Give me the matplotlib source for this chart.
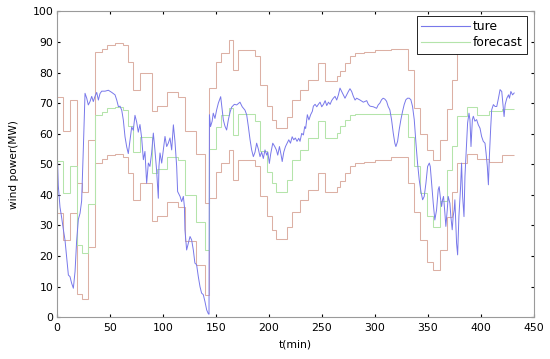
import matplotlib
matplotlib.use("Agg")
import matplotlib.pyplot as plt
from matplotlib.lines import Line2D

# ---------------- data ----------------
step_edges = [0, 6.2, 12.5, 18.8, 23.5, 29.8, 36, 42.4, 47.1, 55, 62.8, 67.5, 72.2,
              78.5, 89.5, 94.3, 103.7, 114.6, 120.5, 131, 139.8, 143.7, 150, 155,
              162, 166, 171, 187, 192, 198, 203, 207, 217, 222, 229, 237, 246.6,
              252.9, 264, 267, 271.7, 276.4, 281.1, 290, 300, 315, 331.4, 336.5,
              342.4, 348.7, 355, 361.3, 367.6, 372.3, 377.6, 387, 396, 408, 420, 431]

upper_vals = [72, 61, 71, 44, 41, 58, 86.8, 87.8, 89, 89.8, 88.9, 83.5, 74.3, 80,
              67.4, 68.9, 73.7, 72, 61, 53.5, 37.5, 75, 83.5, 86.5, 90.6, 80.8,
              87.4, 85.5, 75.8, 69, 64.6, 61.8, 65.5, 71, 74.4, 77.6, 83.1, 77.1,
              78.7, 80.4, 83.1, 85.3, 86.4, 86.8, 87.2, 87.6, 80.9, 68.5, 60, 54.7,
              51.5, 58, 68, 77.6, 89, 91, 89, 89.5, 90]

forecast_vals = [51, 40.5, 49.5, 23.5, 21, 37, 66.2, 67.2, 68.3, 68.8, 67.8, 62.5,
                 54, 59, 47, 48.5, 52.5, 51.5, 40, 31, 22, 55, 62.3, 66, 68.5, 59.5,
                 66.3, 64, 54.5, 47.5, 44, 41, 45, 51.5, 54.7, 58.5, 64, 58.5, 60.2,
                 62.4, 64.6, 66.2, 66.5, 66.5, 66.3, 66.6, 59, 49.5, 40.5, 33, 29.6,
                 38, 48, 56, 65.8, 68.8, 66, 67.3, 68]

lower_vals = [34, 25.3, 34, 7.5, 6, 23, 50.3, 51.6, 53, 53.5, 52.5, 47.3, 38.3, 43.8,
              31.6, 33, 37.8, 36, 25, 17, 7.3, 39, 47.5, 50.5, 54.6, 45, 51.5, 49.5,
              39.5, 33, 28.6, 25.5, 29.6, 34.5, 38.4, 41.6, 47, 41, 42.7, 44.4, 47,
              49.3, 50.4, 50.8, 51.5, 52.3, 43.8, 34.5, 25.3, 18.2, 15.5, 22, 32.9,
              41.1, 50.5, 53.3, 51.8, 50.8, 53]

true_t = [0, 0.7, 1.5, 3.1, 4.7, 6.3, 7.8, 9.4, 11.0, 12.5, 14.1, 15.7, 17.3, 18.8,
          20.4, 22, 23.5, 25.1, 26.7, 28.3, 29.8, 31.4, 33, 34.5, 36.1, 37.7, 39.3,
          40.8, 42.4, 45.6, 48.7, 51.9, 55, 56.6, 58.2, 59.7, 61.3, 62.8, 64.4, 66,
          67.5, 69.1, 70.7, 72.2, 73.8, 75.4, 76.9, 78.5, 80.1, 81.7, 83.2, 84.8,
          86.4, 87.9, 89.5, 91.1, 92.6, 94.2, 95.8, 96.4, 97.4, 99, 100.5, 102.1,
          103.7, 105.2, 106.8, 108.4, 110, 111.5, 113.1, 114, 116.3, 117.8, 119.4,
          120.4, 120.9, 122.5, 124.1, 125.7, 127.2, 128.8, 130.3, 131.9, 133.5,
          135.1, 136.6, 138.2, 139.8, 141.4, 142.9, 143.6, 144, 145, 146.5, 147.6,
          149.2, 150.8, 152.4, 154.6, 156, 157.1, 158.6, 160.2, 161.8, 163.4, 165,
          167.5, 169.7, 172.8, 174.9, 177.5, 179.1, 180.7, 182.3, 183.8, 185.4, 187,
          188.5, 190.1, 191.7, 193.2, 194.8, 196.4, 198, 199, 200.5, 201.8, 203.7,
          205.6, 207.1, 208.4, 210, 211.6, 212.6, 214.1, 215.7, 217.2, 218.8, 220.4,
          222, 223.5, 225, 226.6, 228.2, 229.4, 231, 232.6, 233.8, 234.7, 236.3,
          237.8, 239.4, 241, 242, 243.6, 245.2, 246.7, 248.3, 249.9, 251.5, 253.1,
          254.6, 256.2, 257.8, 259.2, 260.8, 262.4, 264, 265.6, 267.1, 268.7, 270.3,
          271.8, 273.4, 275, 276.5, 278.1, 279.7, 281.3, 282.8, 286, 289.1, 292.3,
          293.8, 295.4, 298.5, 300.5, 301.6, 303.1, 304.7, 306.3, 307.8, 309.4, 311,
          312.5, 314.1, 315.7, 317.3, 318.8, 319.8, 321.4, 322.9, 324.5, 326.1,
          327.6, 329.2, 330.8, 332.4, 333.9, 335.5, 337.1, 338.7, 340.2, 341.8,
          343.4, 345, 346.5, 348.1, 349.7, 351.3, 352.2, 353.5, 355, 356.5, 358.1,
          359.7, 360.6, 361.6, 362.9, 363.8, 364.7, 366, 366.9, 368.2, 369.1, 370.7,
          371.6, 372.9, 373.8, 374.7, 375.4, 377, 378, 379.2, 380.8, 381.7, 382.7,
          384, 384.9, 386.5, 387.4, 388.7, 389.6, 390.6, 391.9, 392.8, 394.3, 395.9,
          397.5, 399.1, 400.6, 402.2, 403.8, 404.8, 406, 407, 407.9, 409.2, 410.1,
          411.7, 413.3, 414.9, 416.5, 418, 419.6, 420.6, 421.8, 422.8, 424.4, 426,
          426.9, 428.2, 429.8, 431.3]

true_v = [49, 52, 43, 36, 32.5, 28.6, 25.3, 19.4, 13.8, 13.3, 11.1, 9.5, 15, 25,
          32, 34, 38, 55, 73.2, 71.6, 69.4, 70.5, 72.2, 70.5, 72.2, 73.5, 71, 73.1,
          73.9, 73.9, 74.2, 73.5, 72.7, 71, 68.8, 69, 67.7, 64.5, 59, 55.7, 53.5,
          57.8, 62.2, 61.1, 66, 63.8, 60.5, 63, 58.6, 51.5, 54.2, 43.8, 50.4, 49.3,
          53.7, 60.2, 54.7, 48, 38.9, 49.3, 53.7, 50.4, 54.7, 59.1, 55.8, 56.9, 58.6,
          54.7, 62.9, 57.5, 49.3, 41.1, 39.5, 37.8, 39.5, 36.2, 28.6, 22, 24.2, 26.4,
          25.3, 22, 17.7, 17.2, 13.3, 10, 7.9, 7.4, 5.1, 2.4, 1.2, 1.0, 66.2, 62.3,
          64, 66.7, 65, 67.8, 70, 72.1, 68, 64.5, 62.5, 61.2, 64.5, 67, 68.7, 69.6,
          69.4, 70.3, 68.8, 67.7, 66.2, 62.3, 58, 54.7, 52.5, 54, 56.9, 55, 52.5, 54,
          51.9, 54.7, 53, 54, 50.3, 53.5, 56.9, 55.8, 54.7, 53, 55.8, 53, 50.9, 54,
          55.8, 56.9, 58, 56.9, 59, 58, 58.6, 57.5, 58.5, 57.5, 60.1, 59.6, 62.3,
          61.7, 66.2, 64.5, 66.2, 67.3, 69, 69.6, 68.8, 69.6, 70.3, 68.8, 69.6, 70.8,
          69.2, 70.3, 69.6, 70.8, 71.6, 72.2, 71, 72.7, 74.9, 73.8, 72.7, 71.6, 72.7,
          73.8, 74.7, 73.8, 72.2, 71, 71.6, 71, 70.3, 70.8, 69.6, 69, 68.8, 68.5,
          68.3, 69.4, 70, 71.1, 71.6, 71.3, 70.6, 68.9, 67.8, 64.6, 60.2, 56.9, 55.8,
          57.5, 61.3, 64.6, 67.3, 69.5, 71.1, 71.6, 71.6, 71.1, 68.9, 64.6, 56.9,
          50.4, 44.9, 41.1, 38.4, 39.5, 43.8, 49.3, 50.4, 49.3, 43.8, 37.3, 31.8, 35,
          41.7, 42.7, 39.5, 36.2, 38.4, 39.5, 34, 29.7, 35, 39.5, 37.3, 33, 28.6, 33,
          35, 38.4, 24.2, 20.4, 32.9, 42.7, 50.4, 39.5, 32.9, 46, 56.9, 63.5, 66.7,
          64.6, 55.8, 64.6, 65.7, 64.1, 64.6, 62.9, 61.8, 59.1, 57.5, 56.9, 53.7,
          49.3, 43.3, 52.3, 62.1, 67.8, 69.5, 68.9, 68.9, 71.6, 74.4, 73.8, 70, 65.6,
          69.5, 71.6, 72.7, 71.6, 73.8, 72.7, 73.3]

x_ticks = [0, 50, 100, 150, 200, 250, 300, 350, 400, 450]
y_ticks = [0, 10, 20, 30, 40, 50, 60, 70, 80, 90, 100]
series_names = ["ture", "forecast"]
x_label = "t(min)"
y_label = "wind power(MW)"

# ---------------- style ----------------
plt.rcParams['font.family'] = ['DejaVu Sans']
c_true = '#7878ea'
c_fc = '#b4e4aa'
c_bound = '#dcb0a4'

fig = plt.figure(figsize=(5.5, 3.59), dpi=100)
ax = fig.add_axes([0.1031, 0.1162, 0.8678, 0.8523])

ax.stairs(upper_vals, step_edges, baseline=None, color=c_bound, lw=0.75)
ax.stairs(lower_vals, step_edges, baseline=None, color=c_bound, lw=0.75)
ax.stairs(forecast_vals, step_edges, baseline=None, color=c_fc, lw=0.75)
ax.plot(true_t, true_v, color=c_true, lw=0.7)

ax.set_xlim(0, 450)
ax.set_ylim(0, 100)
ax.set_xticks(x_ticks)
ax.set_yticks(y_ticks)
ax.tick_params(direction='in', length=2.5, width=0.8, top=True, right=True,
               labelsize=7.8, color='k')
ax.tick_params(axis='y', pad=2.4)
ax.tick_params(axis='x', pad=4)
for s in ax.spines.values():
    s.set_color('#9a9a9a')
    s.set_linewidth(0.8)

ax.set_xlabel(x_label, fontsize=7.8, va='center')
ax.xaxis.set_label_coords(0.5, -0.0905)
ax.set_ylabel(y_label, fontsize=7.6, va='center')
ax.yaxis.set_label_coords(-0.0895, 0.5)

handles = [Line2D([], [], color=c_true, lw=0.8), Line2D([], [], color=c_fc, lw=0.8)]
leg = ax.legend(handles, series_names, loc='upper right',
                bbox_to_anchor=(0.9853, 0.9846), borderaxespad=0, fontsize=8.8,
                fancybox=False, framealpha=1, edgecolor='k', handlelength=4,
                handletextpad=0.2, borderpad=0.35, labelspacing=0.25)
leg.get_frame().set_linewidth(0.6)

fig.savefig('out.png', dpi=100)
